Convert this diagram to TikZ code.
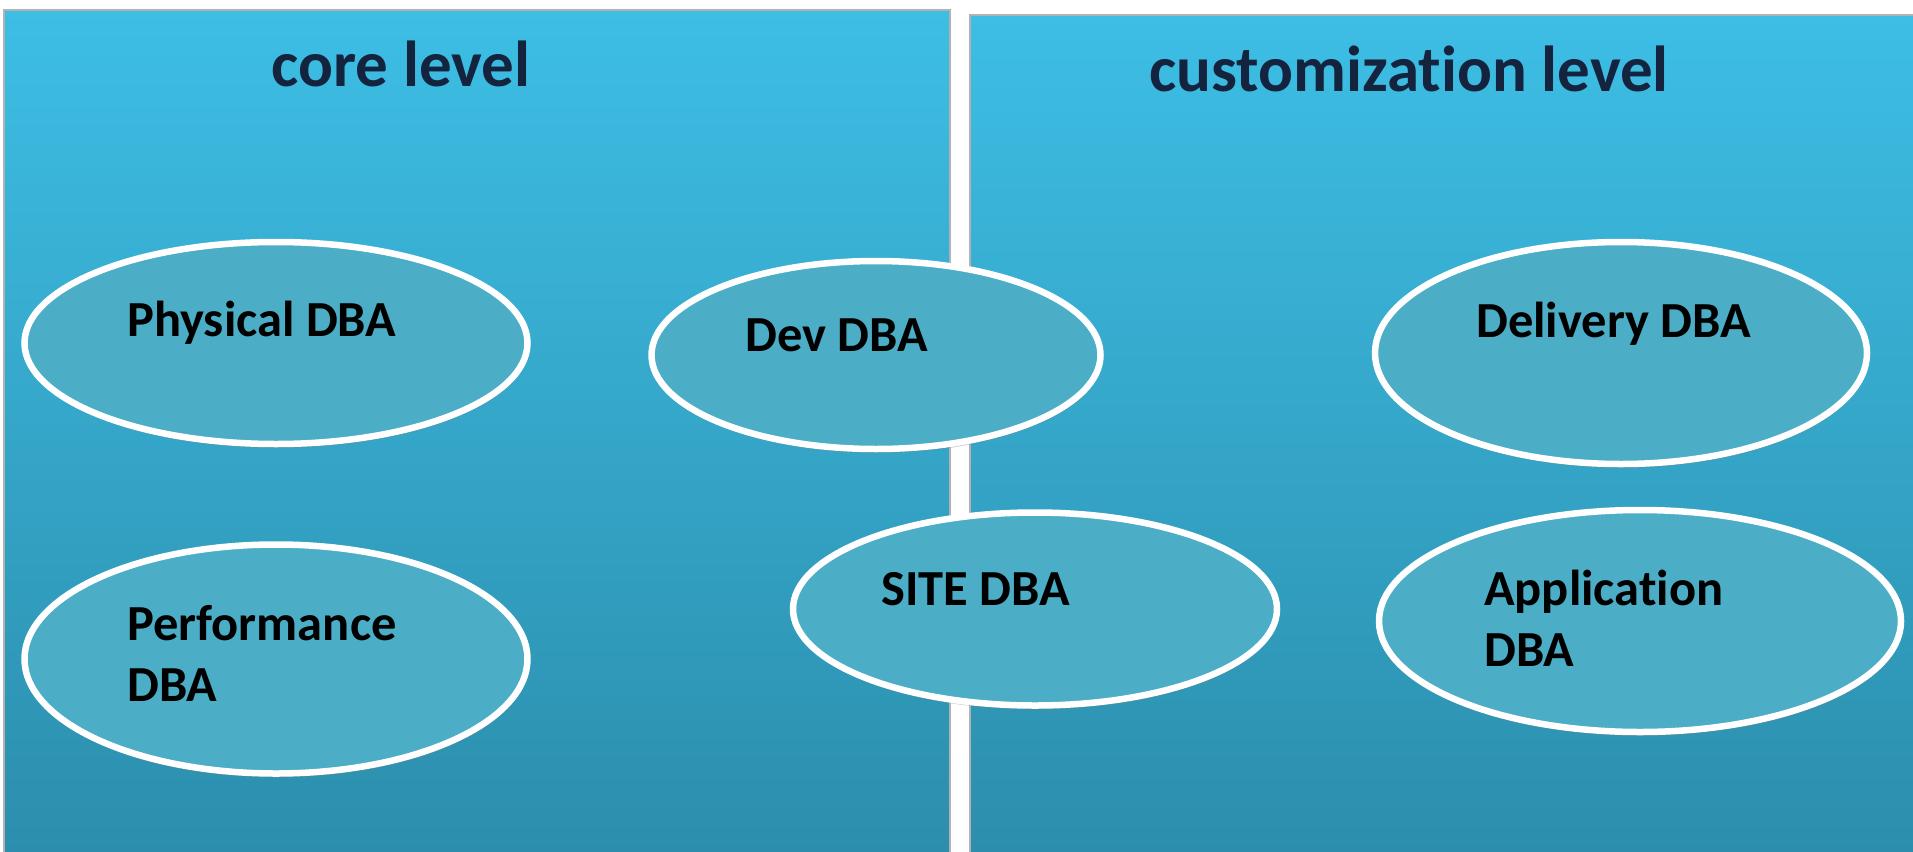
\documentclass[tikz,border=0pt]{standalone}
\usepackage{fontspec}
\setmainfont[Ligatures=NoCommon]{Carlito}
\usetikzlibrary{shapes.geometric,shadows}
\definecolor{paneltop}{HTML}{3DBEE5}
\definecolor{panelbot}{HTML}{2C8EAC}
\definecolor{ellfill}{HTML}{4BADC6}
\definecolor{titlecol}{HTML}{14243E}
\tikzset{
  panel/.style={draw=gray!60, line width=1.5pt, top color=paneltop, bottom color=panelbot},
  ell/.style={ellipse, draw=white, line width=6.5pt, fill=ellfill, inner sep=0pt,
    drop shadow={opacity=0.35, shadow xshift=1pt, shadow yshift=-4pt}},
  lbl/.style={anchor=base west, font=\fontsize{50.5}{60}\selectfont\bfseries, text=black, align=left, inner sep=0pt},
  ttl/.style={anchor=base, font=\fontsize{65}{72}\selectfont\bfseries, text=titlecol, inner sep=0pt}
}
\begin{document}
\begin{tikzpicture}[x=1pt,y=-1pt]
\useasboundingbox (0,0) rectangle (1913,851);
\fill[white] (0,0) rectangle (1913,851);
% panels
\path[panel] (4,10) rectangle (950,853);
\path[panel] (970,15) rectangle (1915,853);
\node[ttl] (tcore) at (401,86) {core level};
\node[ttl] (tcust) at (1409,91) {customization level};
% ellipses
\node[ell, minimum width=503pt, minimum height=202pt] (phys) at (276,343) {};
\node[ell, minimum width=503pt, minimum height=229pt] (perf) at (276,659) {};
\node[ell, minimum width=449pt, minimum height=188pt] (dev) at (876,355) {};
\node[ell, minimum width=484pt, minimum height=193pt] (site) at (1035,609) {};
\node[ell, minimum width=492pt, minimum height=222pt] (deliv) at (1621,353) {};
\node[ell, minimum width=522pt, minimum height=222pt] (appl) at (1640,621) {};
% labels
\node[lbl] (tphys) at (127,336) {Physical DBA};
\node[lbl] (tperf) at (127,640) {Performance};
\node[lbl] (tperf2) at (127,701) {DBA};
\node[lbl] (tdev) at (745,351) {Dev DBA};
\node[lbl] (tsite) at (881,605) {SITE DBA};
\node[lbl] (tdeliv) at (1476,337) {Delivery DBA};
\node[lbl] (tappl) at (1484,605) {Application};
\node[lbl] (tappl2) at (1484,666) {DBA};
\end{tikzpicture}
\end{document}
